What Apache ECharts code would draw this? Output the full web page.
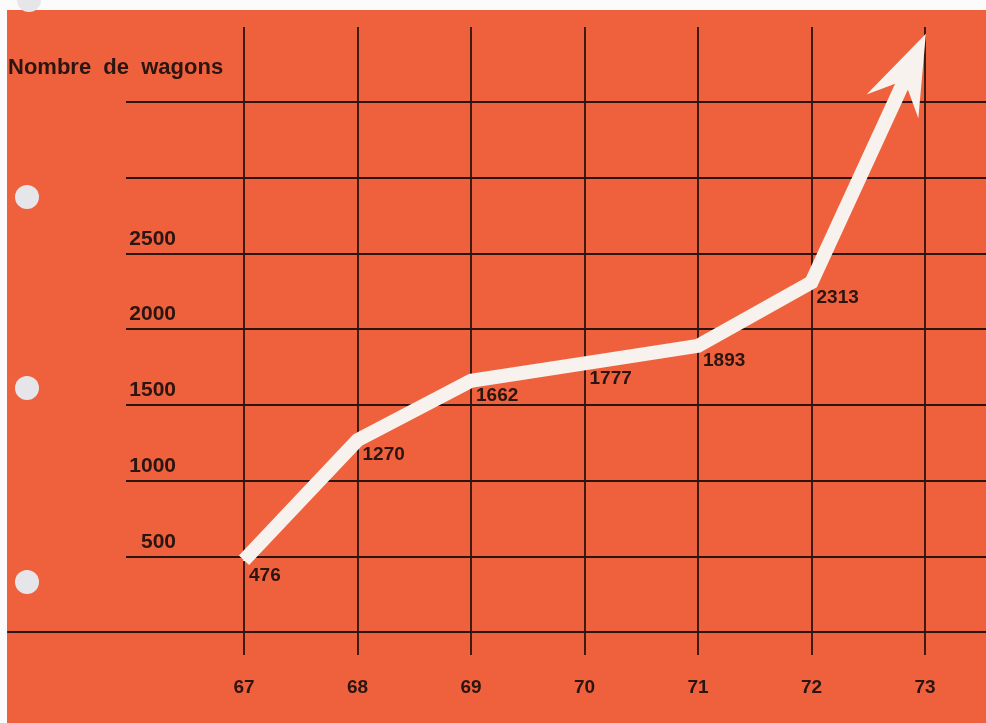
<!DOCTYPE html>
<html><head><meta charset="utf-8">
<script src="https://cdn.jsdelivr.net/npm/echarts@6/dist/echarts.min.js"></script>
<style>html,body{margin:0;padding:0;background:#fff}#c{width:986px;height:723px}</style>
</head><body><div id="c"></div>
<script>
// ---- data ----
const years = [67, 68, 69, 70, 71, 72];
const wagons = [476, 1270, 1662, 1777, 1893, 2313];
const arrowEnd = [72.82, 3650];          // end of the rising arrow shaft (estimated)
const xTickLabels = ['67', '68', '69', '70', '71', '72', '73'];
const yTickLabels = [500, 1000, 1500, 2000, 2500];
const yAxisTitle = 'Nombre  de  wagons';

// ---- styles ----
const ORANGE = '#ef613d';
const INK = '#2a1510';
const WHITE = '#f7f2ed';
const FONT = '"Liberation Sans", Arial, sans-serif';
const ARROW_PATH = 'path://M50,0L100,100L50,64L0,100Z';
const ARROW_SIZE = [57, 80];
const ARROW_NOTCH_TO_CENTER = 11;

const chart = echarts.init(document.getElementById('c'), null, {renderer: 'canvas'});

function buildData(rot, off) {
  const d = years.map((y, i) => ({value: [y, wagons[i]]}));
  d.push({
    value: arrowEnd.slice(),
    symbol: ARROW_PATH,
    symbolSize: ARROW_SIZE,
    symbolRotate: rot,
    symbolOffset: off,
    label: {show: false}
  });
  return d;
}

const option = {
  backgroundColor: ORANGE,
  animation: false,
  title: {
    text: yAxisTitle, left: 8, top: 57, padding: 0,
    textStyle: {color: INK, fontFamily: FONT, fontWeight: 'bold', fontSize: 22}
  },
  graphic: [
    {type: 'rect', shape: {x: 0, y: 0, width: 986, height: 10}, style: {fill: '#fbfbfb'}, silent: true},
    {type: 'rect', shape: {x: 0, y: 0, width: 7, height: 723}, style: {fill: '#fbfbfb'}, silent: true},
    {type: 'circle', shape: {cx: 29, cy: 0, r: 12}, style: {fill: '#e6e6ea'}, silent: true},
    {type: 'circle', shape: {cx: 27, cy: 197, r: 12}, style: {fill: '#e6e6ea'}, silent: true},
    {type: 'circle', shape: {cx: 27, cy: 388, r: 12}, style: {fill: '#e6e6ea'}, silent: true},
    {type: 'circle', shape: {cx: 27, cy: 582, r: 12}, style: {fill: '#e6e6ea'}, silent: true}
  ],
  grid: [
    {left: 244, right: 61, top: 27, bottom: 68},
    {left: 126, right: 0, top: 102, bottom: 91},
    {left: 8, right: 0, top: 102, bottom: 91}
  ],
  xAxis: [
    {
      gridIndex: 0, type: 'value', min: 67, max: 73, interval: 1,
      axisLine: {show: false}, axisTick: {show: false},
      splitLine: {show: true, lineStyle: {color: INK, width: 1.8}},
      axisLabel: {
        margin: 23, color: INK, fontFamily: FONT, fontWeight: 'bold', fontSize: 19,
        formatter: v => xTickLabels[Math.round(v) - 67] || ''
      }
    },
    {gridIndex: 1, type: 'value', min: 0, max: 1, show: false},
    {
      gridIndex: 2, type: 'value', min: 0, max: 1,
      axisLine: {show: true, lineStyle: {color: INK, width: 2}},
      axisTick: {show: false}, axisLabel: {show: false}, splitLine: {show: false}
    }
  ],
  yAxis: [
    {gridIndex: 0, type: 'value', min: -150, max: 4000, show: false, splitLine: {show: false}},
    {
      gridIndex: 1, type: 'value', min: 0, max: 3500, interval: 500,
      axisLine: {show: false}, axisTick: {show: false},
      splitLine: {show: true, lineStyle: {color: INK, width: 1.8}},
      axisLabel: {
        inside: true, margin: 50, align: 'right', verticalAlign: 'bottom',
        padding: [0, 0, 4, 0],
        color: INK, fontFamily: FONT, fontWeight: 'bold', fontSize: 21,
        formatter: v => yTickLabels.indexOf(v) >= 0 ? String(v) : ''
      }
    },
    {gridIndex: 2, type: 'value', min: 0, max: 1, show: false, splitLine: {show: false}}
  ],
  series: [{
    type: 'line',
    xAxisIndex: 0, yAxisIndex: 0,
    clip: false,
    data: buildData(0, [0, 0]),
    symbol: 'circle', symbolSize: 2,
    itemStyle: {color: WHITE, borderWidth: 0},
    lineStyle: {color: WHITE, width: 14, cap: 'butt', join: 'miter'},
    label: {
      show: true, position: 'right', distance: 4, offset: [0, 15],
      color: INK, fontFamily: FONT, fontWeight: 'bold', fontSize: 19,
      formatter: p => String(p.value[1])
    },
    emphasis: {disabled: true},
    z: 5
  }]
};

chart.setOption(option);

// orient the arrow head along the last segment, using the chart's own scales
const pA = chart.convertToPixel({gridIndex: 0}, [years[years.length - 1], wagons[wagons.length - 1]]);
const pB = chart.convertToPixel({gridIndex: 0}, arrowEnd);
const dx = pB[0] - pA[0], dy = pB[1] - pA[1];
const len = Math.hypot(dx, dy);
const ux = dx / len, uy = dy / len;
const clockwise = Math.atan2(dx, -dy) * 180 / Math.PI;
chart.setOption({series: [{data: buildData(-clockwise, [ux * ARROW_NOTCH_TO_CENTER, uy * ARROW_NOTCH_TO_CENTER])}]});
</script>
</body></html>
